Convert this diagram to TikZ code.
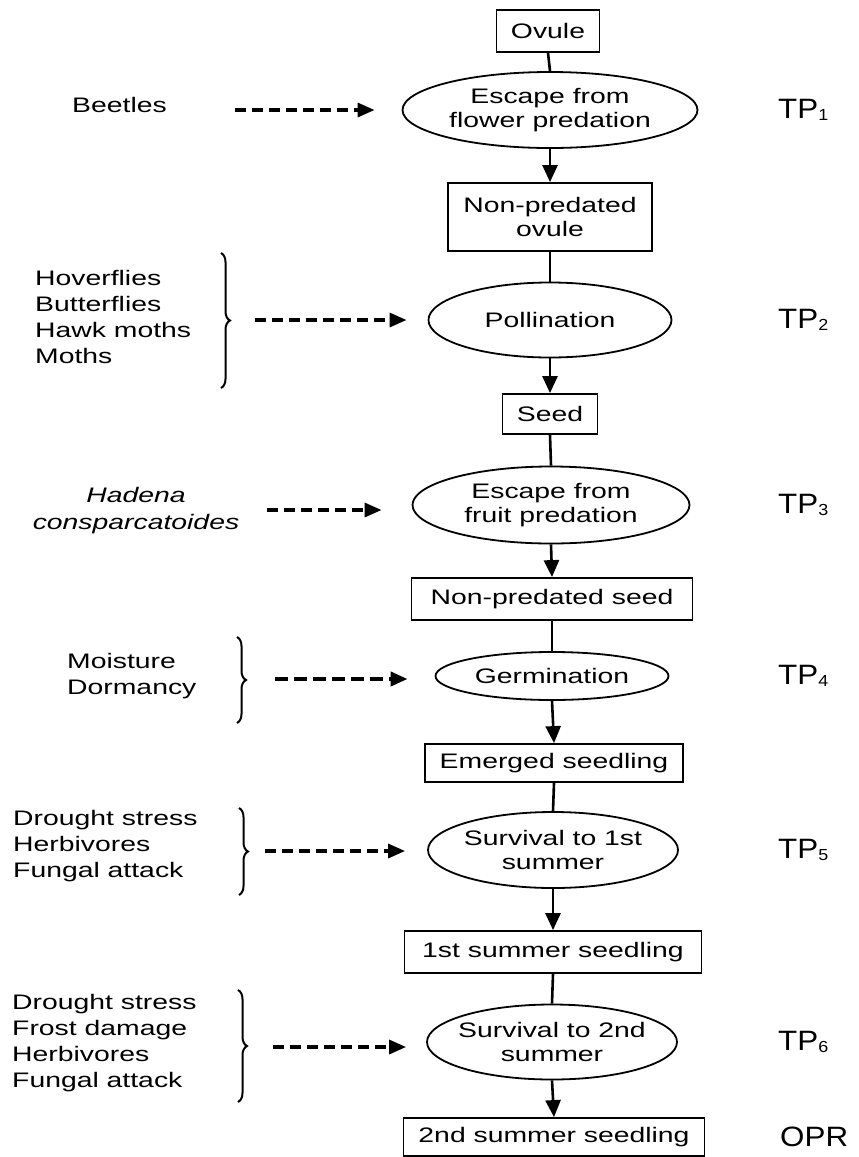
\documentclass[tikz,border=0pt]{standalone}
\usepackage{fontspec}
\setmainfont{Liberation Sans}[FakeStretch=1.35]
\newfontfamily\tpfont{Liberation Sans}[FakeStretch=1.12]
\usetikzlibrary{shapes.geometric,arrows.meta,decorations.pathreplacing}
\newcommand\tpsub[1]{TP\raisebox{-2pt}{\fontsize{16}{16}\selectfont #1}}

\begin{document}
\begin{tikzpicture}[x=1pt,y=-1pt,
  stage/.style={draw,line width=1.8pt,inner sep=2pt,font=\fontsize{21}{24}\selectfont,align=center},
  event/.style={draw,ellipse,line width=1.8pt,inner sep=0pt,inner xsep=-6pt,font=\fontsize{21}{24}\selectfont,align=center},
  factor/.style={inner sep=0pt,font=\fontsize{21}{26}\selectfont,align=left,anchor=west},
  taxon/.style={inner sep=0pt,font=\itshape\fontsize{21}{27}\selectfont,align=center},
  tp/.style={inner sep=0pt,font=\tpfont\fontsize{28}{30}\selectfont,anchor=west},
  link/.style={line width=2.6pt},
  flow/.style={line width=2.6pt,-{Triangle[length=17pt,width=15pt]}},
  cause/.style={line width=3.2pt,dash pattern=on 11pt off 6pt,-{Triangle[length=17pt,width=14pt]}},
  grp/.style={line width=2pt,decorate,decoration={brace,amplitude=9pt}}]
  \useasboundingbox (0,0) rectangle (859,1157);

  % main sequence
  \node[stage,minimum width=103pt,minimum height=42pt] (ovule) at (548,31) {Ovule};
  \node[event,minimum width=295pt,minimum height=76pt] (e1) at (550,110) {Escape from\\flower predation};
  \node[stage,minimum width=204pt,minimum height=68pt] (npovule) at (550,217) {Non-predated\\ovule};
  \node[event,minimum width=243pt,minimum height=75pt] (e2) at (550,320) {Pollination};
  \node[stage,minimum width=95pt,minimum height=40pt] (seed) at (550,414) {Seed};
  \node[event,minimum width=277pt,minimum height=77pt] (e3) at (551,505) {Escape from\\fruit predation};
  \node[stage,minimum width=281pt,minimum height=42pt] (npseed) at (552,599) {Non-predated seed};
  \node[event,minimum width=233pt,minimum height=48pt] (e4) at (552,676) {Germination};
  \node[stage,minimum width=258pt,minimum height=38pt] (emerged) at (554,763) {Emerged seedling};
  \node[event,minimum width=250pt,minimum height=76pt] (e5) at (553,850) {Survival to 1st\\summer};
  \node[stage,minimum width=297pt,minimum height=42pt] (s1) at (553,952) {1st summer seedling};
  \node[event,minimum width=250pt,minimum height=75pt] (e6) at (552,1042) {Survival to 2nd\\summer};
  \node[stage,minimum width=301pt,minimum height=38pt] (s2) at (554,1137) {2nd summer seedling};

  \draw[link] (ovule.south) -- (e1.north);
  \draw[flow] (e1.south) -- (npovule.north);
  \draw[link] (npovule.south) -- (e2.north);
  \draw[flow] (e2.south) -- (seed.north);
  \draw[link] (seed.south) -- (e3.north);
  \draw[flow] (e3.south) -- (npseed.north);
  \draw[link] (npseed.south) -- (e4.north);
  \draw[flow] (e4.south) -- (emerged.north);
  \draw[link] (emerged.south) -- (e5.north);
  \draw[flow] (e5.south) -- (s1.north);
  \draw[link] (s1.south) -- (e6.north);
  \draw[flow] (e6.south) -- (s2.north);

  % transition probabilities
  \node[tp] (tp1) at (778,110) {\tpsub{1}};
  \node[tp] (tp2) at (778,320) {\tpsub{2}};
  \node[tp] (tp3) at (778,505) {\tpsub{3}};
  \node[tp] (tp4) at (778,676) {\tpsub{4}};
  \node[tp] (tp5) at (778,850) {\tpsub{5}};
  \node[tp] (tp6) at (778,1042) {\tpsub{6}};
  \node[tp] (opr) at (780,1137) {OPR};

  % agents acting on each step
  \node[factor] (beetles) at (72,105) {Beetles};
  \node[factor] (pollinators) at (35,317) {Hoverflies\\Butterflies\\Hawk moths\\Moths};
  \node[taxon] (hadena) at (136,511) {Hadena\\consparcatoides};
  \node[factor] (moisture) at (67,676) {Moisture\\Dormancy};
  \node[factor] (drought1) at (13,846) {Drought stress\\Herbivores\\Fungal attack};
  \node[factor] (drought2) at (12,1043) {Drought stress\\Frost damage\\Herbivores\\Fungal attack};

  \draw[grp] (221,253) -- (221,388);
  \draw[grp] (237,637) -- (237,723);
  \draw[grp] (239,808) -- (239,895);
  \draw[grp] (238,990) -- (238,1102);

  \coordinate (c1) at (235,110);
  \coordinate (c2) at (255,320);
  \coordinate (c3) at (267,510);
  \coordinate (c4) at (275,679);
  \coordinate (c5) at (265,851);
  \coordinate (c6) at (273,1047);
  \draw[cause,shorten >=27pt] (c1) -- (c1 -| e1.west);
  \draw[cause,shorten >=21pt] (c2) -- (c2 -| e2.west);
  \draw[cause,shorten >=30pt] (c3) -- (c3 -| e3.west);
  \draw[cause,line width=4pt,dash pattern=on 13pt off 6pt,shorten >=27pt] (c4) -- (c4 -| e4.west);
  \draw[cause,shorten >=22pt] (c5) -- (c5 -| e5.west);
  \draw[cause,shorten >=20pt] (c6) -- (c6 -| e6.west);
\end{tikzpicture}
\end{document}
